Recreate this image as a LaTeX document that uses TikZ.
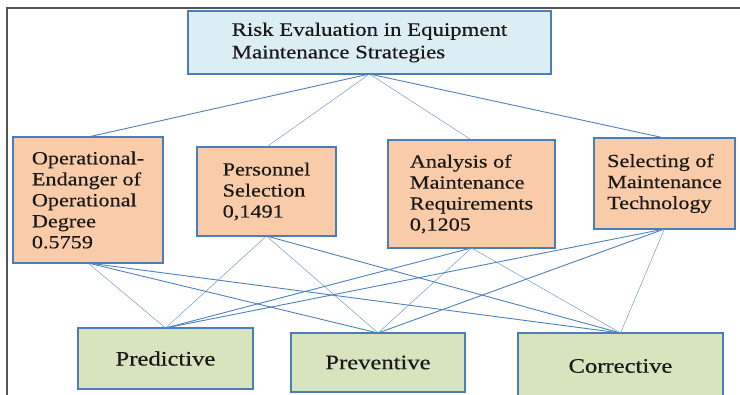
\documentclass[tikz,border=0pt]{standalone}
\usepackage{fontspec}
\setmainfont{Liberation Serif}[FakeStretch=1.2,FakeBold=0.4]
\definecolor{boxblue}{HTML}{4A7EBB}
\definecolor{linkblue}{HTML}{4F81BD}
\definecolor{topfill}{HTML}{DBEEF4}
\definecolor{midfill}{HTML}{F9CBA9}
\definecolor{botfill}{HTML}{D7E4BD}
\definecolor{framegray}{HTML}{555555}
\begin{document}
\begin{tikzpicture}[x=1pt,y=-1pt,
  box/.style={draw=boxblue, line width=2.7pt, align=left, inner sep=0pt, outer sep=0pt, text=black!90},
  topbox/.style={box, fill=topfill, font=\fontsize{19}{22.5}\selectfont},
  midbox/.style={box, fill=midfill, font=\fontsize{18.5}{21}\selectfont},
  botbox/.style={box, fill=botfill, font=\fontsize{20.5}{24}\selectfont},
  link/.style={draw=linkblue, line width=0.9pt},
  thinlink/.style={draw=linkblue!85, line width=0.45pt}]
\useasboundingbox (0,0) rectangle (740,395);
\clip (0,0) rectangle (740,395);
\fill[white] (0,0) rectangle (740,395);
\draw[framegray, line width=1.8pt] (7,395) -- (7,8) -- (740,8);

\node[topbox, minimum width=363, minimum height=63] (top) at (369.5,42.5)
  {Risk Evaluation in Equipment\\Maintenance Strategies};

\node[midbox, minimum width=150, minimum height=126] (m1) at (88,200)
  {Operational-\\Endanger of\\Operational\\Degree\\0.5759};
\node[midbox, minimum width=139, minimum height=89] (m2) at (266.5,191.5)
  {Personnel\\Selection\\0,1491};
\node[midbox, minimum width=167, minimum height=108] (m3) at (471.5,194)
  {Analysis of\\Maintenance\\Requirements\\0,1205};
\node[midbox, minimum width=141, minimum height=91] (m4) at (664.5,183.5)
  {Selecting of\\Maintenance\\Technology};

\node[botbox, minimum width=175, minimum height=61] (b1) at (165.5,358.5) {Predictive};
\node[botbox, minimum width=174, minimum height=59] (b2) at (378,362.5) {Preventive};
\node[botbox, minimum width=205, minimum height=66] (b3) at (620.5,366) {Corrective};

\draw[link] (top.south) -- (m1.north);
\draw[thinlink] (top.south) -- (m2.north);
\draw[thinlink] (top.south) -- (m3.north);
\draw[link] (top.south) -- (m4.north);

\draw[thinlink] (m1.south) -- (b1.north);
\draw[link] (m1.south) -- (b2.north);
\draw[link] (m1.south) -- (b3.north);
\draw[thinlink] (m2.south) -- (b1.north);
\draw[thinlink] (m2.south) -- (b2.north);
\draw[link] (m2.south) -- (b3.north);
\draw[link] (m3.south) -- (b1.north);
\draw[thinlink] (m3.south) -- (b2.north);
\draw[thinlink] (m3.south) -- (b3.north);
\draw[link] (m4.south) -- (b1.north);
\draw[link] (m4.south) -- (b2.north);
\draw[thinlink] (m4.south) -- (b3.north);
\end{tikzpicture}
\end{document}
